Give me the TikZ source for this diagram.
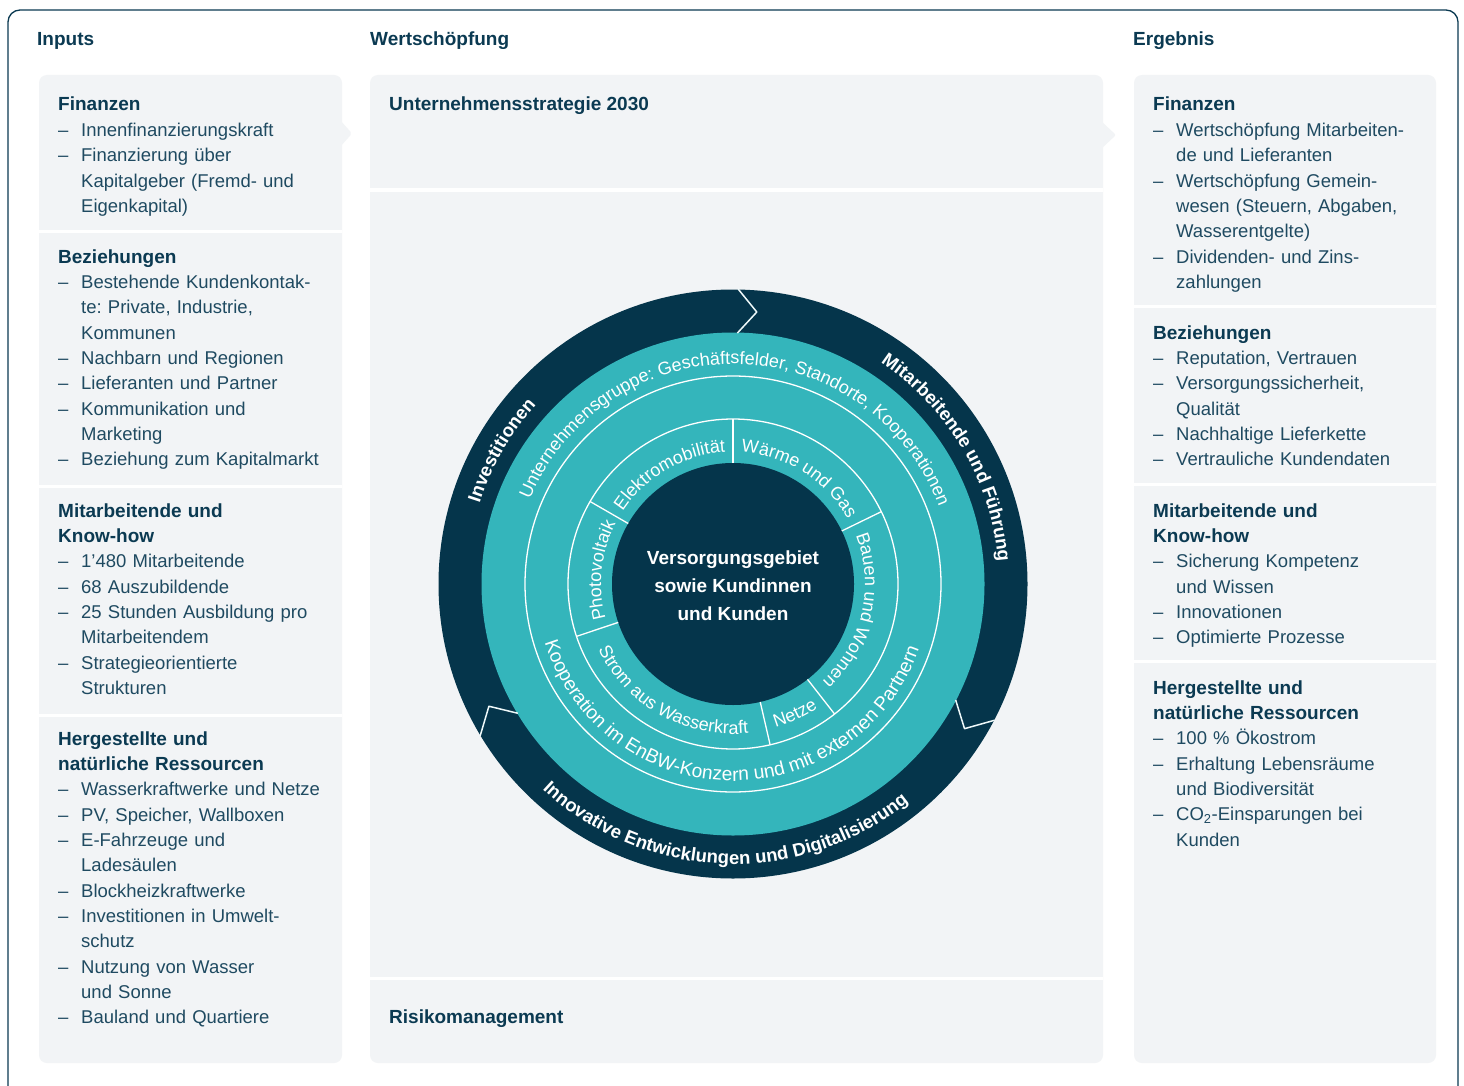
\documentclass[tikz,border=0pt]{standalone}
\usepackage{fontspec}
\setmainfont{Liberation Sans}
\usetikzlibrary{decorations.text}
\frenchspacing
\definecolor{cNavy}{HTML}{05354B}
\definecolor{cTeal}{HTML}{34B5BB}
\definecolor{cPanel}{HTML}{F2F4F6}
\definecolor{cHead}{HTML}{0B3A52}
\definecolor{cBody}{HTML}{1F4A61}
\newcommand\itm{\makebox[23pt][l]{–}}
\newcommand\ind{\hspace*{23pt}}
\newcommand\hd[1]{{\fontsize{19}{25.35}\selectfont\bfseries\color{cHead}#1}}
\newcommand\arcfont{\fontsize{18}{18}\selectfont\color{white}}
\newcommand\arcfontb{\fontsize{19.2}{19.2}\selectfont\color{white}}
\newcommand\arcbold{\fontsize{18.5}{18.5}\selectfont\bfseries\color{white}}
\newcommand\arctxt[5]{\path[decorate,decoration={text along path,text align=center,text={|#5|#4}}] (#2:#1) arc[start angle=#2,end angle=#3,radius=#1];}
\begin{document}
\begin{tikzpicture}[x=1pt,y=-1pt,
  lst/.style={anchor=base west, inner sep=0pt, text width=300pt, align=left,
    font=\fontsize{18.5}{25.35}\selectfont, text=cBody},
  colhead/.style={anchor=base west, inner sep=0pt, font=\fontsize{19}{19}\selectfont\bfseries, text=cHead},
  sep/.style={fill=white},
  chev/.style={draw=white!92!cTeal, line width=1.5pt, line join=round},
  wline/.style={draw=white, line width=1.3pt}]
\useasboundingbox (0,0) rectangle (1464,1086);
\fill[white] (0,0) rectangle (1464,1086);
% frame
\draw[cHead, line width=1.3pt, rounded corners=12pt] (8,10) rectangle (1458,1110);
% columns
\fill[cPanel, rounded corners=8pt] (39,75) rectangle (342,1063);
\fill[cPanel, rounded corners=2pt] (340,120) -- (352,133.5) -- (340,147) -- cycle;
\fill[sep] (39,230) rectangle (342,233);
\fill[sep] (39,485) rectangle (342,488);
\fill[sep] (39,714) rectangle (342,717);
\fill[cPanel, rounded corners=8pt] (370,75) rectangle (1103,1063);
\fill[cPanel, rounded corners=2pt] (1101,121) -- (1116,135) -- (1101,149) -- cycle;
\fill[sep] (370,188) rectangle (1103,192);
\fill[sep] (370,977) rectangle (1103,980);
\fill[cPanel, rounded corners=8pt] (1134,75) rectangle (1436,1063);
\fill[sep] (1134,305) rectangle (1436,308);
\fill[sep] (1134,483) rectangle (1436,486);
\fill[sep] (1134,660) rectangle (1436,663);
% headers
\node[colhead] (hIn) at (37,46) {Inputs};
\node[colhead] (hWs) at (370,46) {Wertschöpfung};
\node[colhead] (hEr) at (1133,46) {Ergebnis};
\node[colhead] (strat) at (389,111) {Unternehmensstrategie 2030};
\node[colhead] (risk) at (389,1023) {Risikomanagement};
% left column
\node[lst] (inFin) at (58,111) {\hd{Finanzen}\\
\itm Innenfinanzierungskraft\\
\itm Finanzierung über\\
\ind Kapitalgeber (Fremd- und\\
\ind Eigenkapital)};
\node[lst] (inBez) at (58,263) {\hd{Beziehungen}\\
\itm Bestehende Kundenkontak-\\
\ind te: Private, Industrie,\\
\ind Kommunen\\
\itm Nachbarn und Regionen\\
\itm Lieferanten und Partner\\
\itm Kommunikation und\\
\ind Marketing\\
\itm Beziehung zum Kapitalmarkt};
\node[lst] (inMit) at (58,517) {\hd{Mitarbeitende und}\\
\hd{Know-how}\\
\itm 1’480 Mitarbeitende\\
\itm 68 Auszubildende\\
\itm 25 Stunden Ausbildung pro\\
\ind Mitarbeitendem\\
\itm Strategieorientierte\\
\ind Strukturen};
\node[lst] (inHer) at (58,745) {\hd{Hergestellte und}\\
\hd{natürliche Ressourcen}\\
\itm Wasserkraftwerke und Netze\\
\itm PV, Speicher, Wallboxen\\
\itm E-Fahrzeuge und\\
\ind Ladesäulen\\
\itm Blockheizkraftwerke\\
\itm Investitionen in Umwelt-\\
\ind schutz\\
\itm Nutzung von Wasser\\
\ind und Sonne\\
\itm Bauland und Quartiere};
% right column
\node[lst] (outFin) at (1153,111) {\hd{Finanzen}\\
\itm Wertschöpfung Mitarbeiten-\\
\ind de und Lieferanten\\
\itm Wertschöpfung Gemein-\\
\ind wesen (Steuern, Abgaben,\\
\ind Wasserentgelte)\\
\itm Dividenden- und Zins-\\
\ind zahlungen};
\node[lst] (outBez) at (1153,339) {\hd{Beziehungen}\\
\itm Reputation, Vertrauen\\
\itm Versorgungssicherheit,\\
\ind Qualität\\
\itm Nachhaltige Lieferkette\\
\itm Vertrauliche Kundendaten};
\node[lst] (outMit) at (1153,517) {\hd{Mitarbeitende und}\\
\hd{Know-how}\\
\itm Sicherung Kompetenz\\
\ind und Wissen\\
\itm Innovationen\\
\itm Optimierte Prozesse};
\node[lst] (outHer) at (1153,694) {\hd{Hergestellte und}\\
\hd{natürliche Ressourcen}\\
\itm 100 \% Ökostrom\\
\itm Erhaltung Lebensräume\\
\ind und Biodiversität\\
\itm CO\textsubscript{2}-Einsparungen bei\\
\ind Kunden};
% circle
\begin{scope}[shift={(733,584)}, x=1pt, y=1pt]
\fill[cNavy] (0,0) circle[radius=294.5];
\fill[cTeal] (0,0) circle[radius=251.5];
\draw[wline] (0,0) circle[radius=208];
\draw[wline] (0,0) circle[radius=165];
\fill[cNavy] (0,0) circle[radius=121];
\foreach \a in {90,26,-52,-77,198.5,150} \draw[wline] (\a:121) -- (\a:165);
\draw[chev] (89:295) -- (85:273) -- (89:251);
\draw[chev] (-27.5:295) -- (-32:273) -- (-27.5:251);
\draw[chev] (211:295) -- (206.6:273) -- (211:251);
\node[align=center, text=white, font=\fontsize{19}{28}\selectfont\bfseries, inner sep=0pt] (core) at (0,-2) {Versorgungsgebiet\\sowie Kundinnen\\und Kunden};
\arctxt{132}{170}{70}{Elektromobilität}{\arcfont}
\arctxt{132}{108}{8}{Wärme und Gas}{\arcfont}
\arctxt{132}{37}{-63}{Bauen und Wohnen}{\arcfont}
\arctxt{150}{-94.5}{-34.5}{Netze}{\arcfont}
\arctxt{150}{190}{292}{Strom aus Wasserkraft}{\arcfont}
\arctxt{132}{214}{134}{Photovoltaik}{\arcfont}
\arctxt{220}{175}{3}{Unternehmensgruppe: Geschäftsfelder, Standorte, Kooperationen}{\arcfont}
\arctxt{197}{182}{356}{Kooperation im EnBW-Konzern und mit externen Partnern}{\arcfontb}
\arctxt{266}{200}{100}{Investitionen}{\arcbold}
\arctxt{266}{80}{-19}{Mitarbeitende und Führung}{\arcbold}
\arctxt{280}{200}{336}{Innovative Entwicklungen und Digitalisierung}{\arcbold}
\end{scope}
\end{tikzpicture}
\end{document}
